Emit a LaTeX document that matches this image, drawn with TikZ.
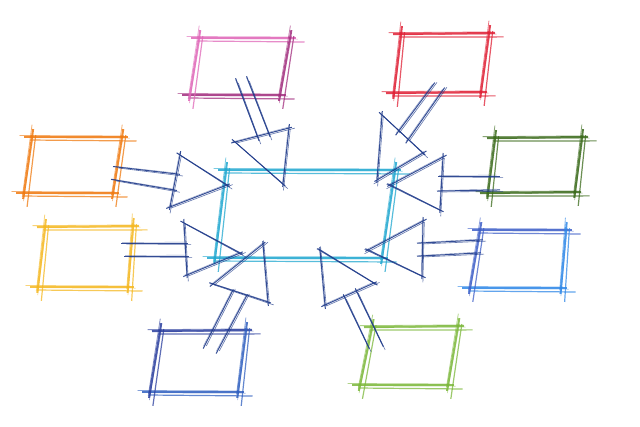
\documentclass[tikz,border=0pt]{standalone}
\usetikzlibrary{calc}
\definecolor{pinkA}{HTML}{E066B8}
\definecolor{pinkB}{HTML}{A22D7E}
\definecolor{orangeA}{HTML}{F07A10}
\definecolor{redA}{HTML}{E02035}
\definecolor{dgreenA}{HTML}{3A6A1A}
\definecolor{yellowA}{HTML}{F5B820}
\definecolor{blueA}{HTML}{3E5FC8}
\definecolor{blueB}{HTML}{2F88E8}
\definecolor{greenA}{HTML}{7CB83A}
\definecolor{navyA}{HTML}{2A3E9E}
\definecolor{navyB}{HTML}{3060C0}
\definecolor{cyanA}{HTML}{20A8D0}
\definecolor{arrowc}{HTML}{1E3A8A}
\newcommand\skl[3]{%
 \draw[#1,line width=2pt,opacity=.85] ($(#2)!-8pt!(#3)$) -- ($(#3)!-6pt!(#2)$);
 \draw[#1,line width=1.2pt,opacity=.75] ($(#2)!-5pt!(#3)+(3,3)$) -- ($(#3)!-10pt!(#2)+(4.5,4)$);
 \draw[#1,line width=.8pt,opacity=.6] ($(#2)!-11pt!(#3)+(-1.5,-1.5)$) -- ($(#3)!-3pt!(#2)+(-1,-1)$);
 \draw[#1,line width=.6pt,opacity=.5] ($(#2)!-3pt!(#3)+(1,.8)$) -- ($(#3)!-7pt!(#2)+(.5,1.2)$);
}
\newcommand\ska[2]{%
 \draw[arrowc,line width=1pt,opacity=.9] ($(#1)!-4pt!(#2)$) -- ($(#2)!-3pt!(#1)$);
 \draw[arrowc,line width=.6pt,opacity=.7] ($(#1)+(1.3,1)$) -- ($(#2)!-5pt!(#1)+(1,1.4)$);
 \draw[arrowc,line width=.4pt,opacity=.5] ($(#1)!-2pt!(#2)+(-.8,-.6)$) -- ($(#2)+(-.5,-.9)$);
}
\newcommand\skbox[7]{%
 \coordinate (#1tl) at #4; \coordinate (#1tr) at #5;
 \coordinate (#1br) at #6; \coordinate (#1bl) at #7;
 \skl{#2}{#1tl}{#1tr}
 \skl{#3}{#1bl}{#1br}
 \skl{#2}{#1tl}{#1bl}
 \skl{#3}{#1tr}{#1br}
}
\newcommand\skarr[8]{%
 \coordinate (#1t) at #2; \coordinate (#1b1) at #3; \coordinate (#1b2) at #4;
 \coordinate (#1sa) at #5; \coordinate (#1sb) at #6;
 \coordinate (#1sc) at #7; \coordinate (#1sd) at #8;
 \ska{#1b1}{#1t}
 \ska{#1b2}{#1t}
 \ska{#1b1}{#1b2}
 \ska{#1sa}{#1sb}
 \ska{#1sc}{#1sd}
}
\begin{document}
\begin{tikzpicture}[x=1pt,y=-1pt]
\fill[white] (0,0) rectangle (640,426);
\useasboundingbox (0,0) rectangle (640,426);
% boxes
\skbox{pk}{pinkA}{pinkB}{(199,38)}{(290,38)}{(280,95)}{(190,95)}
\skbox{or}{orangeA}{orangeA}{(32,137)}{(122,137)}{(113,193)}{(24,193)}
\skbox{rd}{redA}{redA}{(401,34)}{(489,33)}{(481,92)}{(394,93)}
\skbox{dg}{dgreenA}{dgreenA}{(495,138)}{(582,137)}{(575,192)}{(488,193)}
\skbox{ye}{yellowA}{yellowA}{(45,227)}{(133,226)}{(128,287)}{(38,287)}
\skbox{bl}{blueA}{blueB}{(480,230)}{(566,230)}{(561,288)}{(470,288)}
\skbox{gr}{greenA}{greenA}{(372,327)}{(458,326)}{(448,385)}{(360,385)}
\skbox{nv}{navyA}{navyB}{(160,331)}{(246,330)}{(238,392)}{(150,392)}
\skbox{cy}{cyanA}{cyanA}{(226,170)}{(395,170)}{(382,258)}{(215,258)}
% arrows
\skarr{a}{(283,184)}{(235,142)}{(289,128)}{(237,82)}{(258,138)}{(248,80)}{(269,134)}
\skarr{b}{(227,185)}{(180,155)}{(170,207)}{(117,167)}{(177,174)}{(115,180)}{(174,190)}
\skarr{c}{(240,253)}{(184,223)}{(187,275)}{(125,243)}{(185,243)}{(128,256)}{(186,256)}
\skarr{d}{(263,244)}{(213,284)}{(268,302)}{(205,345)}{(232,292)}{(218,350)}{(246,297)}
\skarr{e}{(320,250)}{(325,305)}{(374,283)}{(345,298)}{(368,346)}{(357,292)}{(382,344)}
\skarr{f}{(368,250)}{(423,221)}{(422,276)}{(421,243)}{(480,240)}{(421,256)}{(478,253)}
\skarr{g}{(390,185)}{(443,157)}{(440,210)}{(442,176)}{(497,176)}{(441,191)}{(497,190)}
\skarr{h}{(377,180)}{(382,115)}{(423,153)}{(398,132)}{(433,85)}{(408,140)}{(443,90)}
\end{tikzpicture}
\end{document}
